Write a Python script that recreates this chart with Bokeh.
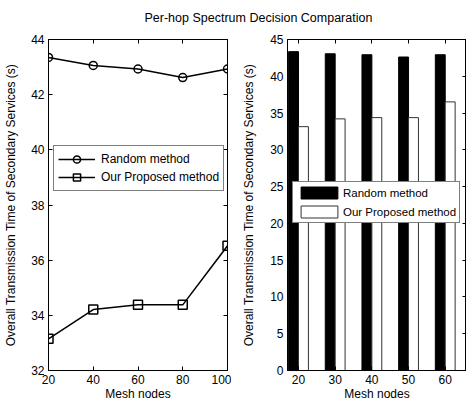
from bokeh.plotting import figure
from bokeh.models import (Range1d, LinearAxis, FixedTicker, Legend, LegendItem, ColumnDataSource)
from bokeh.layouts import column, row
from bokeh.embed import file_html
from bokeh.resources import INLINE

# ---- data ----
nodes_line = [20, 40, 60, 80, 100]
nodes_bar = [20, 30, 40, 50, 60]
random_method = [43.35, 43.06, 42.93, 42.62, 42.93]
proposed_method = [33.15, 34.21, 34.38, 34.38, 36.52]
left_yticks = [32, 34, 36, 38, 40, 42, 44]
right_yticks = [0, 5, 10, 15, 20, 25, 30, 35, 40, 45]

title_text = "Per-hop Spectrum Decision Comparation"
ylabel = "Overall Transmission Time of Secondary Services (s)"
xlabel = "Mesh nodes"
labels = ["Random method", "Our Proposed method"]

FONT = "Liberation Sans"
FS = "12px"


def mirror_axis(ticks):
    return LinearAxis(ticker=FixedTicker(ticks=ticks), major_tick_in=4, major_tick_out=0,
                      minor_tick_line_color=None, major_label_text_font_size="1px",
                      major_label_text_alpha=0, major_label_standoff=0,
                      axis_line_color="black", major_tick_line_color="black")


def style_axes(p, xticks, yticks):
    for ax in p.xaxis + p.yaxis:
        ax.major_tick_in = 4
        ax.major_tick_out = 0
        ax.minor_tick_line_color = None
        ax.axis_line_color = "black"
        ax.major_tick_line_color = "black"
        ax.major_label_text_font = FONT
        ax.major_label_text_font_size = FS
        ax.major_label_text_color = "black"
        ax.axis_label_text_font = FONT
        ax.axis_label_text_font_size = FS
        ax.axis_label_text_font_style = "normal"
        ax.axis_label_text_color = "black"
    p.xaxis.ticker = FixedTicker(ticks=xticks)
    p.yaxis.ticker = FixedTicker(ticks=yticks)
    p.xaxis.major_label_standoff = 4
    p.xaxis.axis_label_standoff = 0
    p.xaxis.axis_label = xlabel
    p.yaxis.major_label_standoff = 4
    p.yaxis.axis_label = ylabel
    # mirrored ticks (box on)
    p.add_layout(mirror_axis(xticks), "above")
    p.add_layout(mirror_axis(yticks), "right")
    p.grid.visible = False
    p.outline_line_color = "black"
    p.outline_line_width = 1


# ---- title strip ----
t = figure(width=466, height=28, toolbar_location=None, output_backend="svg",
           x_axis_location=None, y_axis_location=None,
           min_border_left=0, min_border_right=0, min_border_top=24, min_border_bottom=0)
t.outline_line_color = None
t.grid.visible = False
t.title.text = title_text
t.title.align = "left"
t.title.offset = 144
t.title.text_font = FONT
t.title.text_font_size = "12.5px"
t.title.text_font_style = "normal"
t.title.text_color = "black"
t.title.standoff = 0

H = 375

# ---- left: line plot ----
p1 = figure(width=231, height=H, toolbar_location=None, output_backend="svg",
            x_range=Range1d(20, 100), y_range=Range1d(32, 44),
            min_border_left=48, min_border_right=4, min_border_top=11, min_border_bottom=31)
style_axes(p1, nodes_line, left_yticks)
p1.yaxis.axis_label_standoff = 10

src = ColumnDataSource(dict(x=nodes_line, r=random_method, o=proposed_method))
l1 = p1.line("x", "r", source=src, line_color="black", line_width=1.5)
m1 = p1.scatter("x", "r", source=src, marker="circle", size=8, fill_color=None,
                line_color="black", line_width=1.5)
l2 = p1.line("x", "o", source=src, line_color="black", line_width=1.5)
m2 = p1.scatter("x", "o", source=src, marker="square", size=9, fill_color=None,
                line_color="black", line_width=1.5)

leg1 = Legend(items=[LegendItem(label=labels[0], renderers=[l1, m1]),
                     LegendItem(label=labels[1], renderers=[l2, m2])],
              location=(5, 179), padding=4, margin=0, spacing=0,
              glyph_width=37, glyph_height=18, label_height=18, label_standoff=6,
              label_text_font=FONT, label_text_font_size=FS, label_text_color="black",
              border_line_color="black", border_line_width=1,
              background_fill_color="white", background_fill_alpha=1)
p1.add_layout(leg1, "center")

# ---- right: grouped bars ----
p2 = figure(width=235, height=H, toolbar_location=None, output_backend="svg",
            x_range=Range1d(17, 65.8), y_range=Range1d(0, 45),
            min_border_left=56, min_border_right=0, min_border_top=11, min_border_bottom=31)
style_axes(p2, nodes_bar, right_yticks)
p2.yaxis.axis_label_standoff = 11

bsrc = ColumnDataSource(dict(xb=[v - 1.35 for v in nodes_bar], xw=[v + 1.35 for v in nodes_bar],
                             r=random_method, o=proposed_method))
b1 = p2.vbar(x="xb", top="r", bottom=0, width=2.7, source=bsrc,
             fill_color="black", line_color="black", line_width=1)
b2 = p2.vbar(x="xw", top="o", bottom=0, width=2.7, source=bsrc,
             fill_color="white", line_color="#333333", line_width=1)

leg2 = Legend(items=[LegendItem(label=labels[0], renderers=[b1]),
                     LegendItem(label=labels[1], renderers=[b2])],
              location=(5, 147), padding=3, margin=0, spacing=4,
              glyph_width=46, glyph_height=15, label_height=15, label_standoff=1,
              label_text_font=FONT, label_text_font_size="11.5px", label_text_color="black",
              border_line_color="black", border_line_width=1,
              background_fill_color="white", background_fill_alpha=1)
p2.add_layout(leg2, "center")

layout = column(t, row(p1, p2, spacing=0), spacing=0)
open("out.html", "w").write(file_html(layout, INLINE))
